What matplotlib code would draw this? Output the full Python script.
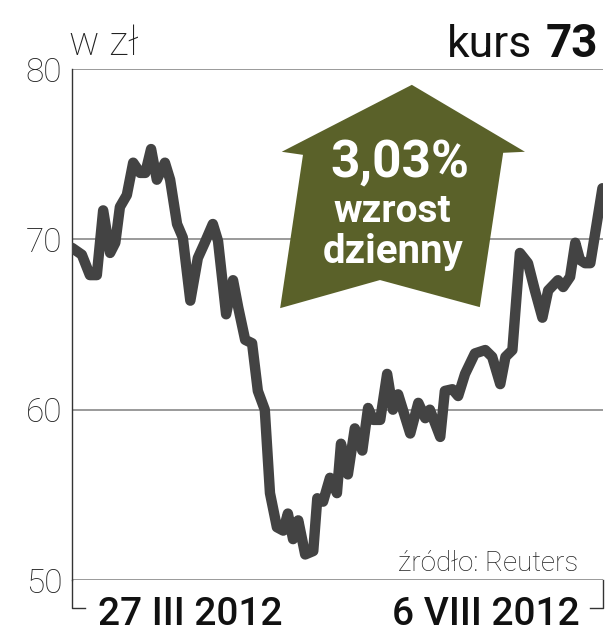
import matplotlib.pyplot as plt
from matplotlib.patches import Polygon

# notowania: dzień sesji od 27 III 2012 i kurs w zł
dni = [0, 1.7, 3.1, 4.3, 5.4, 6.6, 7.5, 8.3, 9.5, 10.6, 11.8, 12.7, 13.7, 14.7,
       16.1, 17.0, 18.2, 19.2, 20.5, 21.8, 23.0, 24.4, 25.3, 26.7, 27.9, 28.8,
       30.0, 31.2, 32.2, 33.4, 34.3, 35.5, 36.6, 37.4, 38.3, 39.2, 40.4, 41.8,
       42.5, 43.5, 44.7, 45.9, 46.6, 47.8, 49.0, 50.3, 51.3, 52.2, 53.4, 54.6,
       55.6, 56.5, 58.6, 60.0, 61.2, 62.0, 63.8, 64.6, 65.9, 66.9, 68.1, 69.8,
       71.6, 72.8, 74.2, 75.1, 76.3, 77.6, 79.0, 80.2, 81.5, 82.5, 84.2, 85.1,
       86.3, 87.2, 88.0, 88.9, 89.8, 91.0, 91.9]
kurs = [69.5, 69.1, 67.9, 67.9, 71.7, 69.2, 69.8, 71.9, 72.6, 74.5, 73.9, 73.9,
        75.3, 73.5, 74.5, 73.5, 70.9, 70.1, 66.4, 68.9, 69.8, 70.9, 69.9, 65.6,
        67.6, 66.0, 64.1, 63.9, 61.1, 60.0, 55.1, 53.1, 52.9, 53.9, 52.4, 53.5,
        51.5, 51.7, 54.8, 54.6, 56.0, 55.1, 58.0, 56.2, 58.9, 57.6, 60.1, 59.4,
        59.4, 62.1, 60.0, 60.9, 58.6, 60.4, 59.5, 60.0, 58.4, 61.1, 61.2, 60.8,
        62.1, 63.3, 63.5, 63.1, 61.5, 63.1, 63.5, 69.2, 68.6, 67.0, 65.4, 67.0,
        67.6, 67.2, 67.8, 69.8, 68.8, 68.6, 68.6, 71.1, 73.0]
yticks = [50, 60, 70, 80]
daty = ["27 III 2012", "6 VIII 2012"]

LIGHT = ["Roboto", "DejaVu Sans"]
BOLD = ["Roboto", "DejaVu Sans"]
W, H = 605, 640

fig = plt.figure(figsize=(6.05, 6.40), dpi=100)
ax = fig.add_axes([72 / W, 1 - 580 / H, 531 / W, 511 / H])

for v in yticks:
    ax.axhline(v, color="#9a9a9a", lw=1.4, zorder=1)

ax.plot(dni, kurs, color="#434343", lw=7.5, solid_joinstyle="round",
        solid_capstyle="round", zorder=3)

ax.set_xlim(0, 92)
ax.set_ylim(50, 80)
ax.set_yticks(yticks)
ax.set_xticks([])
ax.tick_params(axis="y", length=0, pad=7)
for lab in ax.get_yticklabels():
    lab.set_family(LIGHT)
    lab.set_fontsize(24)
    lab.set_fontweight("light")
    lab.set_color("#222222")
for s in ["top", "right", "bottom"]:
    ax.spines[s].set_visible(False)
ax.spines["left"].set_color("#333333")
ax.spines["left"].set_linewidth(1.0)

# nawiasy pod osią
ax.plot([0, 0, 0.025], [0, -0.055, -0.055], transform=ax.transAxes,
        color="#333333", lw=1.0, clip_on=False)
ax.plot([1, 1, 0.975], [0, -0.055, -0.055], transform=ax.transAxes,
        color="#333333", lw=1.0, clip_on=False)

# strzałka
strzalka = Polygon([(0.640, 0.969), (0.853, 0.838), (0.812, 0.836),
                    (0.768, 0.534), (0.580, 0.587), (0.392, 0.532),
                    (0.435, 0.832), (0.395, 0.838)],
                   closed=True, transform=ax.transAxes, facecolor="#5a6129",
                   edgecolor="none", zorder=4)
ax.add_patch(strzalka)

fig.text(400 / W, 1 - 177 / H, "3,03%", ha="center", va="baseline",
         fontsize=37, fontweight="bold", color="white", family=BOLD, zorder=5)
fig.text(392 / W, 1 - 222 / H, "wzrost", ha="center", va="baseline",
         fontsize=28, fontweight="bold", color="white", family=BOLD, zorder=5)
fig.text(393 / W, 1 - 263 / H, "dzienny", ha="center", va="baseline",
         fontsize=29, fontweight="bold", color="white", family=BOLD, zorder=5)

fig.text(69 / W, 1 - 55 / H, "w zł", ha="left", va="baseline",
         fontsize=29, fontweight="light", family=LIGHT, color="#222222")
fig.text(532 / W, 1 - 57 / H, "kurs", ha="right", va="baseline",
         fontsize=32, family=LIGHT, color="#111111")
fig.text(598 / W, 1 - 57 / H, "73", ha="right", va="baseline",
         fontsize=33, fontweight="bold", family=BOLD, color="#111111")

fig.text(578 / W, 1 - 571 / H, "źródło: Reuters", ha="right", va="baseline",
         fontsize=20, fontweight="light", family=LIGHT, color="#222222")

fig.text(98 / W, 1 - 625 / H, daty[0], ha="left", va="baseline",
         fontsize=28, fontweight="medium", family=BOLD, color="#111111")
fig.text(580 / W, 1 - 625 / H, daty[1], ha="right", va="baseline",
         fontsize=28, fontweight="medium", family=BOLD, color="#111111")

fig.savefig("out.png", dpi=100)
